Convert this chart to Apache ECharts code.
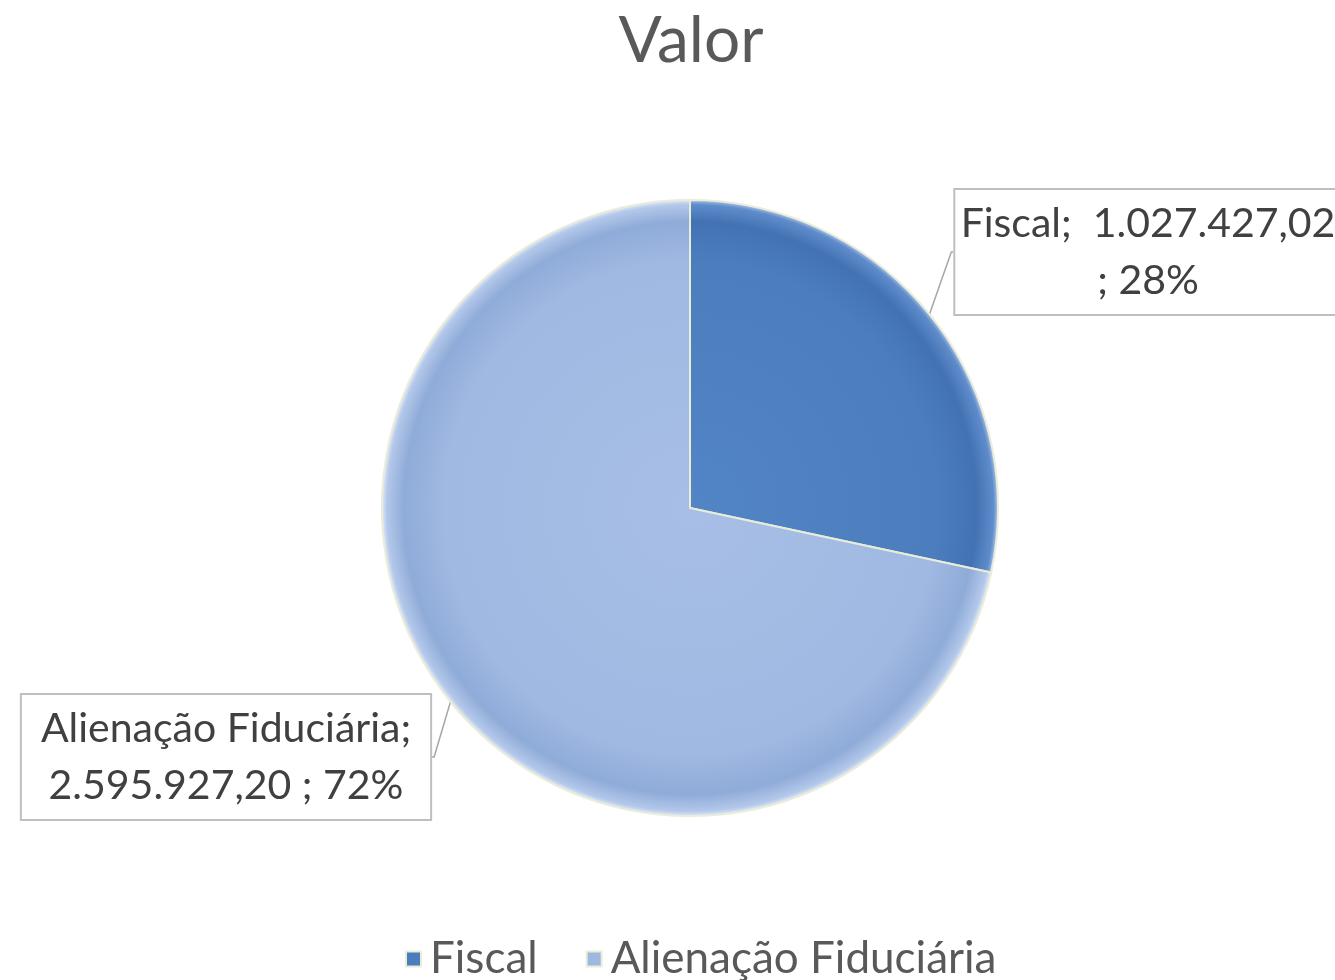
<!DOCTYPE html>
<html>
<head>
<meta charset="utf-8">
<script src="https://cdn.jsdelivr.net/npm/echarts@6/dist/echarts.min.js"></script>
<style>html,body{margin:0;padding:0;background:#fff}#c{width:1335px;height:980px}</style>
</head>
<body>
<div id="c"></div>
<script>
const titleText = 'Valor';
const categories = ['Fiscal', 'Alienação Fiduciária'];
const values = [1027427.02, 2595927.20];
const percents = [28, 72];

function fmtBR(v) {
  const parts = v.toFixed(2).split('.');
  const intPart = parts[0].replace(/\B(?=(\d{3})+(?!\d))/g, '.');
  return intPart + ',' + parts[1];
}

const CX = 690, CY = 508, R = 308;
const FONT = 'Lato';

function radial(stops) {
  return { type: 'radial', x: CX, y: CY, r: R, global: true,
    colorStops: stops.map(s => ({ offset: s[0], color: s[1] })) };
}
const fills = [
  radial([[0, '#5285c5'], [0.8, '#4c7ebe'], [0.93, '#4272b3'], [0.985, '#5f8ccb'], [1, '#a9c1e3']]),
  radial([[0, '#a7bfe6'], [0.8, '#a0b9e2'], [0.93, '#8fabd8'], [0.985, '#b3c8ea'], [1, '#dfe8f6']])
];
const legendColors = ['#4a7dbd', '#9fb8e0'];
const labelPos = [
  { x: 1148, y: 252 },
  { x: 226, y: 757 }
];

const chart = echarts.init(document.getElementById('c'));
chart.setOption({
  animation: false,
  backgroundColor: '#ffffff',
  title: {
    text: titleText, left: 686, textAlign: 'center', top: 4,
    textStyle: { fontFamily: FONT, fontSize: 64, fontWeight: 'normal', color: '#595959' }
  },
  legend: {
    data: categories.map((c, i) => ({ name: c, itemStyle: { color: legendColors[i] } })),
    bottom: -6, left: 400,
    itemWidth: 15, itemHeight: 15, itemGap: 48, icon: 'rect',
    textStyle: { fontFamily: FONT, fontSize: 44, color: '#595959', padding: [0, 0, 0, 4] }
  },
  series: [{
    type: 'pie',
    center: [CX, CY],
    radius: R,
    startAngle: 90,
    clockwise: true,
    data: categories.map((c, i) => ({
      name: c, value: values[i],
      itemStyle: { color: fills[i] }
    })),
    itemStyle: { borderColor: '#e8ecd8', borderWidth: 2 },
    label: {
      show: true,
      position: 'outside',
      overflow: 'none',
      fontFamily: FONT, fontSize: 41, color: '#404040',
      lineHeight: 57, align: 'center',
      backgroundColor: '#ffffff', borderColor: '#bfbfbf', borderWidth: 2,
      padding: [5, 19, 5, 19],
      formatter: p => {
        const i = p.dataIndex;
        return i === 0
          ? categories[0] + ';  ' + fmtBR(values[0]) + '\n; ' + percents[0] + '%'
          : categories[1] + ';\n' + fmtBR(values[1]) + ' ; ' + percents[1] + '%';
      }
    },
    labelLine: { show: true, length: 4, length2: 2, lineStyle: { color: '#a6a6a6', width: 1.5 } },
    labelLayout: p => ({ x: labelPos[p.dataIndex].x, y: labelPos[p.dataIndex].y, align: 'center', verticalAlign: 'middle' })
  }]
});
</script>
</body>
</html>
